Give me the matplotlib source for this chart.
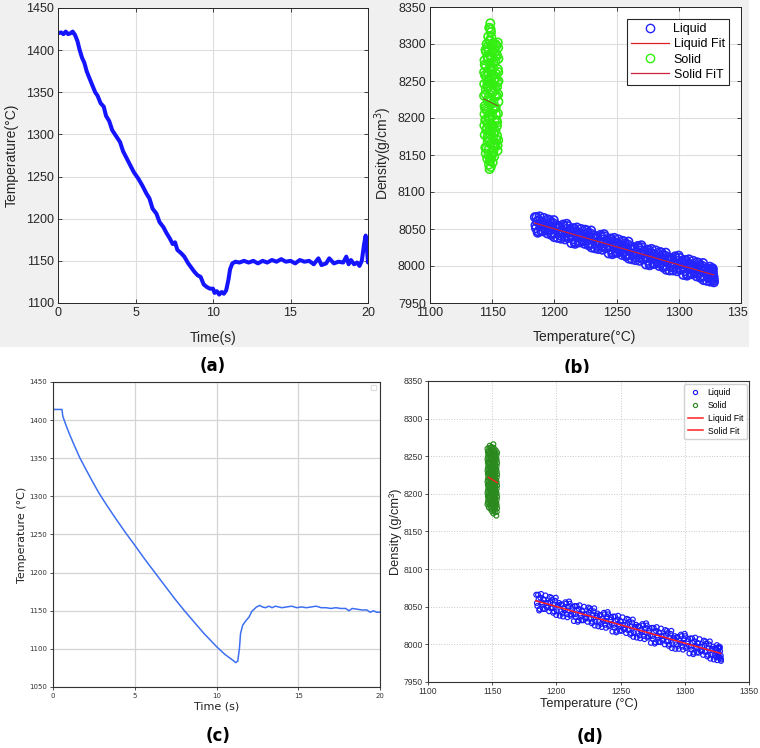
import matplotlib
matplotlib.use('Agg')
import matplotlib.pyplot as plt
from matplotlib.patches import Rectangle, FancyBboxPatch
from matplotlib.lines import Line2D
from matplotlib.transforms import Bbox, TransformedBbox

# ---------------- data ----------------
# (a) measured cooling curve
time_a = [0.0, 0.2, 0.35, 0.5, 0.65, 0.8, 0.95, 1.1, 1.25, 1.4, 1.55, 1.7, 1.85, 2.0, 2.2, 2.4,
          2.55, 2.75, 2.95, 3.1, 3.3, 3.5, 3.75, 4.0, 4.2, 4.45, 4.7, 4.9, 5.2, 5.45, 5.7, 5.9,
          6.1, 6.35, 6.55, 6.8, 7.0, 7.2, 7.4, 7.55, 7.7, 7.95, 8.15, 8.4, 8.6, 8.8, 9.0, 9.2,
          9.4, 9.6, 9.8, 10.0, 10.1, 10.25, 10.4, 10.55, 10.7, 10.85, 11.0, 11.1, 11.25, 11.45,
          11.7, 12.0, 12.3, 12.6, 12.9, 13.2, 13.5, 13.8, 14.1, 14.4, 14.7, 15.0, 15.3, 15.6,
          15.9, 16.2, 16.5, 16.8, 17.0, 17.3, 17.5, 17.8, 18.1, 18.4, 18.6, 18.75, 18.9, 19.1,
          19.3, 19.45, 19.6, 19.75, 19.85, 19.95, 20.0]
temp_a = [1420, 1421, 1419, 1422, 1419, 1420, 1422, 1418, 1411, 1400, 1391, 1385, 1375, 1368, 1359, 1350,
          1346, 1337, 1333, 1322, 1316, 1305, 1298, 1291, 1280, 1271, 1262, 1255, 1247, 1239, 1230, 1224,
          1212, 1206, 1196, 1190, 1183, 1177, 1170, 1172, 1163, 1159, 1155, 1147, 1142, 1137, 1133, 1131,
          1122, 1119, 1117, 1117, 1112, 1114, 1110, 1113, 1111, 1115, 1128, 1140, 1147, 1149,
          1148, 1150, 1148, 1150, 1147, 1150, 1148, 1151, 1149, 1152, 1149, 1150, 1147, 1151,
          1149, 1150, 1146, 1153, 1145, 1147, 1153, 1147, 1149, 1148, 1155, 1146, 1151, 1146,
          1148, 1144, 1150, 1170, 1180, 1160, 1148]

# (c) simulated cooling curve
time_c = [0.0, 0.3, 0.55, 0.6, 0.8, 1.0, 1.3, 1.63, 2.0, 2.4, 2.82, 3.3, 3.8, 4.45, 5.0, 5.6,
          6.2, 6.8, 7.4, 8.0, 8.6, 9.2, 9.6, 10.0, 10.5, 11.0, 11.18, 11.3, 11.4, 11.47, 11.6,
          11.8, 12.0, 12.15, 12.3, 12.45, 12.65, 12.8, 13.0, 13.2, 13.4, 13.6, 13.8, 14.0, 14.3,
          14.6, 14.9, 15.2, 15.5, 15.8, 16.1, 16.4, 16.7, 17.0, 17.3, 17.6, 17.9, 18.1, 18.3,
          18.6, 18.9, 19.2, 19.4, 19.6, 19.8, 20.0]
temp_c = [1414, 1414, 1414, 1405, 1393, 1382, 1367, 1351, 1336, 1320, 1304, 1288, 1272, 1252, 1236, 1218,
          1201, 1184, 1167, 1151, 1136, 1121, 1112, 1103, 1093, 1085, 1082, 1084, 1100, 1120, 1131,
          1137, 1142, 1149, 1152, 1155, 1157, 1155, 1154, 1156, 1154, 1156, 1155, 1154, 1155,
          1156, 1154, 1155, 1154, 1155, 1156, 1154, 1154, 1153, 1154, 1153, 1153, 1150, 1153,
          1152, 1151, 1151, 1148, 1150, 1148, 1148]

# (b)/(d) liquid density vs temperature (two read-off sets)
liquid_T = [1184.3, 1185.2, 1186.1, 1187.0, 1188.1, 1189.0, 1189.9, 1191.0, 1192.1, 1193.2,
            1194.3, 1195.2, 1196.1, 1197.0, 1198.1, 1199.0, 1199.9, 1201.0, 1202.1, 1203.2,
            1204.3, 1205.2, 1206.1, 1207.0, 1208.1, 1209.0, 1209.9, 1211.0, 1212.1, 1213.2,
            1214.3, 1215.2, 1216.1, 1217.0, 1218.1, 1219.0, 1219.9, 1221.0, 1222.1, 1223.2,
            1224.3, 1225.2, 1226.1, 1227.0, 1228.1, 1229.0, 1229.9, 1231.0, 1232.1, 1233.2,
            1234.3, 1235.2, 1236.1, 1237.0, 1238.1, 1239.0, 1239.9, 1241.0, 1242.1, 1243.2,
            1244.3, 1245.2, 1246.1, 1247.0, 1248.1, 1249.0, 1249.9, 1251.0, 1252.1, 1253.2,
            1254.3, 1255.2, 1256.1, 1257.0, 1258.1, 1259.0, 1259.9, 1261.0, 1262.1, 1263.2,
            1264.3, 1265.2, 1266.1, 1267.0, 1268.1, 1269.0, 1269.9, 1271.0, 1272.1, 1273.2,
            1274.3, 1275.2, 1276.1, 1277.0, 1278.1, 1279.0, 1279.9, 1281.0, 1282.1, 1283.2,
            1284.3, 1285.2, 1286.1, 1287.0, 1288.1, 1289.0, 1289.9, 1291.0, 1292.1, 1293.2,
            1294.3, 1295.2, 1296.1, 1297.0, 1298.1, 1299.0, 1299.9, 1301.0, 1302.1, 1303.2,
            1304.3, 1305.2, 1306.1, 1307.0, 1308.1, 1309.0, 1309.9, 1311.0, 1312.1, 1313.2,
            1314.3, 1315.2, 1316.1, 1317.0, 1318.1, 1319.0, 1319.9, 1321.0, 1322.1, 1323.2,
            1324.3, 1325.2, 1326.1, 1327.0, 1327.8, 1324.8, 1325.9, 1326.8, 1327.5, 1328.0]
liquid_D = [8066, 8051, 8060, 8047, 8067, 8054, 8060, 8047, 8055, 8050,
            8044, 8056, 8062, 8049, 8044, 8058, 8039, 8052, 8055, 8044,
            8053, 8037, 8048, 8056, 8040, 8045, 8057, 8038, 8047, 8041,
            8051, 8036, 8045, 8032, 8052, 8039, 8045, 8032, 8040, 8035,
            8030, 8042, 8048, 8035, 8030, 8044, 8025, 8038, 8041, 8030,
            8039, 8023, 8034, 8042, 8026, 8031, 8043, 8024, 8033, 8027,
            8037, 8022, 8031, 8018, 8038, 8025, 8031, 8018, 8026, 8021,
            8015, 8027, 8033, 8020, 8015, 8029, 8010, 8023, 8026, 8015,
            8024, 8008, 8019, 8027, 8011, 8016, 8028, 8009, 8018, 8012,
            8022, 8007, 8016, 8003, 8023, 8010, 8016, 8003, 8011, 8006,
            8000, 8012, 8018, 8005, 8000, 8014, 7995, 8008, 8011, 8000,
            8010, 7994, 8005, 8013, 7997, 8002, 8014, 7995, 8004, 7998,
            8008, 7993, 8002, 7989, 8009, 7996, 8002, 7989, 7997, 7992,
            7986, 7998, 8004, 7991, 7986, 8000, 7981, 7994, 7997, 7986,
            7995, 7979, 7990, 7997, 7982, 7989, 7996, 7982, 7991, 7985]
liquid2_T = [1184.8, 1185.7, 1186.6, 1187.5, 1188.6, 1189.5, 1190.4, 1191.5, 1192.6, 1193.6,
             1194.8, 1195.7, 1196.6, 1197.5, 1198.6, 1199.5, 1200.4, 1201.5, 1202.6, 1203.6,
             1204.8, 1205.7, 1206.6, 1207.5, 1208.6, 1209.5, 1210.4, 1211.5, 1212.6, 1213.6,
             1214.8, 1215.7, 1216.6, 1217.5, 1218.6, 1219.5, 1220.4, 1221.5, 1222.6, 1223.6,
             1224.8, 1225.7, 1226.6, 1227.5, 1228.6, 1229.5, 1230.4, 1231.5, 1232.6, 1233.6,
             1234.8, 1235.7, 1236.6, 1237.5, 1238.6, 1239.5, 1240.4, 1241.5, 1242.6, 1243.6,
             1244.8, 1245.7, 1246.6, 1247.5, 1248.6, 1249.5, 1250.4, 1251.5, 1252.6, 1253.6,
             1254.8, 1255.7, 1256.6, 1257.5, 1258.6, 1259.5, 1260.4, 1261.5, 1262.6, 1263.6,
             1264.8, 1265.7, 1266.6, 1267.5, 1268.6, 1269.5, 1270.4, 1271.5, 1272.6, 1273.6,
             1274.8, 1275.7, 1276.6, 1277.5, 1278.6, 1279.5, 1280.4, 1281.5, 1282.6, 1283.6,
             1284.8, 1285.7, 1286.6, 1287.5, 1288.6, 1289.5, 1290.4, 1291.5, 1292.6, 1293.6,
             1294.8, 1295.7, 1296.6, 1297.5, 1298.6, 1299.5, 1300.4, 1301.5, 1302.6, 1303.6,
             1304.8, 1305.7, 1306.6, 1307.5, 1308.6, 1309.5, 1310.4, 1311.5, 1312.6, 1313.6,
             1314.8, 1315.7, 1316.6, 1317.5, 1318.6, 1319.5, 1320.4, 1321.5, 1322.6, 1323.6,
             1324.6, 1325.5, 1326.4, 1327.3, 1328.2, 1324.0, 1325.0, 1326.0, 1327.0, 1328.2]
liquid2_D = [8055, 8066, 8045, 8062, 8056, 8047, 8059, 8065, 8049, 8055,
             8063, 8048, 8059, 8042, 8053, 8062, 8044, 8052, 8038, 8053,
             8041, 8048, 8045, 8054, 8036, 8050, 8054, 8040, 8050, 8031,
             8040, 8051, 8030, 8047, 8041, 8032, 8044, 8050, 8034, 8040,
             8049, 8034, 8045, 8028, 8039, 8048, 8030, 8038, 8024, 8039,
             8027, 8034, 8031, 8040, 8022, 8036, 8040, 8026, 8036, 8017,
             8026, 8037, 8016, 8033, 8027, 8018, 8030, 8036, 8020, 8026,
             8034, 8019, 8030, 8013, 8024, 8033, 8015, 8023, 8009, 8024,
             8012, 8019, 8016, 8025, 8007, 8021, 8025, 8011, 8021, 8002,
             8011, 8022, 8001, 8018, 8012, 8003, 8015, 8021, 8005, 8011,
             8019, 8004, 8015, 7998, 8009, 8018, 8000, 8008, 7994, 8009,
             7998, 8005, 8002, 8011, 7993, 8007, 8011, 7997, 8007, 7988,
             7997, 8008, 7987, 8004, 7998, 7989, 8001, 8007, 7991, 7997,
             8005, 7990, 8001, 7984, 7995, 8004, 7986, 7994, 7980, 7995,
             7983, 7990, 7987, 7996, 7978, 7995, 7999, 7985, 7995, 7980]

# (b) solid points
solid_b_T = [1148.5, 1147.6, 1149.0, 1146.8, 1148.2, 1145.5, 1150.5, 1153.5, 1154.8, 1144.6,
             1147.0, 1151.8, 1154.0, 1146.0, 1149.5, 1143.8, 1152.6, 1148.0, 1145.0, 1150.8,
             1154.5, 1146.5, 1153.0, 1144.2, 1149.2, 1151.5, 1147.5, 1154.2, 1143.6, 1145.8,
             1152.2, 1148.8, 1150.2, 1144.8, 1153.6, 1147.2, 1146.2, 1151.0, 1149.6, 1143.9,
             1152.9, 1145.3, 1148.4, 1154.6, 1150.0, 1146.9, 1144.4, 1152.0, 1149.0, 1153.8,
             1145.6, 1147.8, 1151.2, 1144.0, 1150.6, 1153.2, 1146.4, 1148.6, 1152.5, 1145.2,
             1154.3, 1149.8, 1147.1, 1151.6, 1146.0, 1148.3, 1150.4, 1147.4, 1148.9, 1147.9,
             1145.0, 1150.0, 1152.5, 1143.5, 1149.0, 1155.0, 1146.0, 1150.8, 1154.8, 1143.5,
             1148.0, 1153.0, 1145.0, 1150.5, 1144.5, 1151.0, 1154.8, 1143.8, 1155.0, 1147.0,
             1144.8, 1147.3, 1149.7, 1152.1, 1154.3, 1146.1, 1145.2, 1147.9, 1150.1, 1152.6,
             1154.0, 1146.6, 1144.3, 1148.1, 1150.9, 1153.4, 1146.2, 1149.1, 1144.9, 1147.1,
             1151.3, 1153.9, 1149.4, 1152.4, 1145.4, 1147.6, 1150.6, 1152.8, 1154.9, 1148.9,
             1144.0, 1146.8, 1151.0, 1153.3, 1145.9, 1149.9, 1147.7, 1152.0, 1149.3, 1148.7,
             1154.5, 1145.5, 1153.9, 1151.8, 1143.7, 1155.0, 1148.2, 1150.9]
solid_b_D = [8328, 8322, 8316, 8310, 8305, 8300, 8301, 8298, 8295, 8292,
             8290, 8288, 8284, 8283, 8281, 8278, 8276, 8274, 8270, 8268,
             8266, 8262, 8260, 8258, 8256, 8252, 8250, 8248, 8246, 8243,
             8240, 8238, 8235, 8232, 8230, 8228, 8224, 8222, 8219, 8216,
             8214, 8211, 8208, 8206, 8203, 8200, 8197, 8195, 8192, 8189,
             8186, 8183, 8180, 8177, 8174, 8171, 8168, 8165, 8162, 8159,
             8156, 8153, 8150, 8148, 8145, 8142, 8140, 8137, 8134, 8131,
             8290, 8290, 8300, 8262, 8268, 8280, 8250, 8245, 8232, 8230,
             8222, 8205, 8198, 8190, 8160, 8160, 8170, 8205, 8222, 8172,
             8152, 8158, 8149, 8166, 8163, 8174, 8184, 8179, 8186, 8182,
             8194, 8192, 8213, 8199, 8211, 8197, 8209, 8226, 8238, 8244,
             8236, 8242, 8247, 8229, 8256, 8266, 8259, 8254, 8262, 8283,
             8272, 8279, 8275, 8286, 8296, 8298, 8304, 8293, 8309, 8320,
             8302, 8160, 8176, 8215, 8190, 8250, 8145, 8155]

# (d) solid points
solid_d_T = [1146.3, 1146.9, 1146.3, 1146.9, 1146.3, 1146.9, 1146.3, 1146.9, 1146.3, 1146.9, 1146.3,
             1147.4, 1148.0, 1147.4, 1148.0, 1147.4, 1148.0, 1147.4, 1148.0, 1147.4, 1148.0, 1147.4, 1148.0,
             1148.6, 1149.2, 1148.6, 1149.2, 1148.6, 1149.2, 1148.6, 1149.2, 1148.6, 1149.2, 1148.6, 1149.2,
             1149.8, 1150.4, 1149.8, 1150.4, 1149.8, 1150.4, 1149.8, 1150.4, 1149.8, 1150.4, 1149.8, 1150.4, 1150.9,
             1150.9, 1151.5, 1150.9, 1151.5, 1150.9, 1151.5, 1150.9, 1151.5, 1150.9, 1151.5, 1150.9, 1151.5,
             1152.1, 1152.7, 1152.1, 1152.7, 1152.1, 1152.7, 1152.1, 1152.7, 1152.1, 1152.7, 1152.1, 1152.7,
             1153.2, 1153.8, 1153.2, 1153.8, 1153.2, 1153.8, 1153.2, 1153.8, 1153.2, 1153.8, 1153.2, 1153.8]
solid_d_D = [8186, 8193, 8201, 8208, 8216, 8223, 8231, 8238, 8246, 8253, 8260,
             8182, 8190, 8197, 8205, 8212, 8220, 8227, 8235, 8242, 8250, 8257, 8264,
             8180, 8187, 8195, 8203, 8210, 8218, 8225, 8233, 8240, 8248, 8255, 8262,
             8177, 8185, 8192, 8200, 8207, 8215, 8222, 8230, 8237, 8245, 8252, 8259, 8266,
             8174, 8183, 8190, 8198, 8205, 8213, 8220, 8228, 8235, 8243, 8250, 8257,
             8176, 8184, 8191, 8199, 8206, 8214, 8221, 8229, 8236, 8244, 8251, 8258,
             8171, 8181, 8188, 8196, 8203, 8211, 8218, 8226, 8233, 8241, 8248, 8255]
solid_d2_T = [1146.6, 1146.6, 1146.6, 1146.6, 1146.6, 1146.6, 1146.6, 1146.6, 1146.6, 1146.6,
              1147.7, 1147.7, 1147.7, 1147.7, 1147.7, 1147.7, 1147.7, 1147.7, 1147.7, 1147.7, 1147.7,
              1148.9, 1148.9, 1148.9, 1148.9, 1148.9, 1148.9, 1148.9, 1148.9, 1148.9, 1148.9, 1148.9,
              1150.1, 1150.1, 1150.1, 1150.1, 1150.1, 1150.1, 1150.1, 1150.1, 1150.1, 1150.1, 1150.1, 1150.1,
              1151.2, 1151.2, 1151.2, 1151.2, 1151.2, 1151.2, 1151.2, 1151.2, 1151.2, 1151.2, 1151.2, 1151.2,
              1152.4, 1152.4, 1152.4, 1152.4, 1152.4, 1152.4, 1152.4, 1152.4, 1152.4, 1152.4, 1152.4,
              1153.5, 1153.5, 1153.5, 1153.5, 1153.5, 1153.5, 1153.5, 1153.5, 1153.5, 1153.5, 1153.5]
solid_d2_D = [8189, 8197, 8204, 8212, 8219, 8227, 8234, 8242, 8249, 8256,
              8186, 8194, 8201, 8209, 8216, 8224, 8231, 8239, 8246, 8253, 8261,
              8183, 8191, 8199, 8206, 8214, 8221, 8229, 8236, 8244, 8251, 8258,
              8181, 8188, 8196, 8203, 8211, 8218, 8226, 8233, 8241, 8248, 8255, 8262,
              8179, 8186, 8194, 8201, 8209, 8216, 8224, 8231, 8239, 8246, 8253, 8261,
              8180, 8188, 8195, 8202, 8210, 8217, 8225, 8232, 8240, 8247, 8254,
              8176, 8185, 8192, 8200, 8207, 8215, 8222, 8230, 8237, 8245, 8252]

# linear fits (end points)
liq_fit_T = [1184, 1328]
liq_fit_D = [8058, 7988]
sol_fit_b_T = [1143, 1155]
sol_fit_b_D = [8226, 8216]
sol_fit_d_T = [1147, 1154]
sol_fit_d_D = [8222, 8215]

temp_ticks = [1100, 1150, 1200, 1250, 1300, 1350]
dens_ticks = [7950, 8000, 8050, 8100, 8150, 8200, 8250, 8300, 8350]
time_ticks = [0, 5, 10, 15, 20]

# ---------------- layout ----------------
W, H = 760, 748
fig = plt.figure(figsize=(7.6, 7.48), dpi=100)


def rect(l, t, r, b):
    return [l / W, 1 - b / H, (r - l) / W, (b - t) / H]


def figbox(l, t, r, b):
    return TransformedBbox(Bbox([[l / W, 1 - b / H], [r / W, 1 - t / H]]), fig.transFigure)


fig.patches.append(Rectangle((0, 1 - 347 / H), 749 / W, 347 / H, transform=fig.transFigure,
                             facecolor='#f0f0f0', edgecolor='none', zorder=-10))

MAT = ['Liberation Sans', 'DejaVu Sans']
NARROW = ['Liberation Sans Narrow', 'Liberation Sans', 'DejaVu Sans']
DARK = '#262626'


def matlab_style(ax):
    ax.grid(True, color='#dedede', lw=0.8)
    ax.set_axisbelow(True)
    ax.tick_params(direction='in', length=3, width=0.6, labelsize=9, colors=DARK,
                   top=True, right=True, labelfontfamily=MAT, pad=3)
    for s in ax.spines.values():
        s.set_color(DARK)
        s.set_linewidth(0.7)


# ---- (a) ----
axA = fig.add_axes(rect(58, 8, 368, 303))
axA.plot(time_a, temp_a, color='#1414ff', lw=2.9, solid_joinstyle='round', solid_capstyle='round')
axA.set_xlim(0, 20)
axA.set_ylim(1100, 1450)
axA.set_xticks(time_ticks)
axA.set_yticks([1100, 1150, 1200, 1250, 1300, 1350, 1400, 1450])
matlab_style(axA)
axA.set_xlabel('Time(s)', fontsize=10, family=MAT, color=DARK)
axA.set_ylabel('Temperature(°C)', fontsize=10, family=MAT, color=DARK)
axA.xaxis.set_label_coords(0.5, -0.095)
axA.yaxis.set_label_coords(-0.126, 0.5)

# ---- (b) ----
axB = fig.add_axes(rect(430, 7, 741, 303))
axB.scatter(solid_b_T, solid_b_D, s=36, facecolors='none', edgecolors='#33ee11', linewidths=1.2, zorder=2)
axB.scatter(liquid_T, liquid_D, s=36, facecolors='none', edgecolors='#2424ff', linewidths=1.2, zorder=2)
axB.scatter(liquid2_T, liquid2_D, s=36, facecolors='none', edgecolors='#2424ff', linewidths=1.2, zorder=2)
axB.plot(liq_fit_T, liq_fit_D, color='#e02020', lw=0.8, zorder=3)
axB.plot(sol_fit_b_T, sol_fit_b_D, color='#8a3a30', lw=0.6, zorder=3)
axB.set_xlim(1100, 1350)
axB.set_ylim(7950, 8350)
axB.set_xticks(temp_ticks)
axB.set_yticks(dens_ticks)
matlab_style(axB)
axB.set_xlabel('Temperature(°C)', fontsize=10, family=MAT, color=DARK)
axB.set_ylabel('Density(g/cm$^3$)', fontsize=10, family=MAT, color=DARK)
axB.xaxis.set_label_coords(0.498, -0.091)
axB.yaxis.set_label_coords(-0.116, 0.507)
hB = [Line2D([], [], ls='none', marker='o', mfc='none', mec='#2424ff', ms=6, mew=1.0),
      Line2D([], [], color='#e02020', lw=0.9),
      Line2D([], [], ls='none', marker='o', mfc='none', mec='#33ee11', ms=6, mew=1.0),
      Line2D([], [], color='#d02040', lw=0.9)]
legB = axB.legend(hB, ['Liquid', 'Liquid Fit', 'Solid', 'Solid FiT'], loc='upper right',
                  bbox_to_anchor=((729 - 430) / 311, (303 - 19) / 296), borderaxespad=0,
                  frameon=True, fancybox=False, edgecolor=DARK, framealpha=1,
                  prop={'family': MAT, 'size': 9}, handlelength=3.0, labelspacing=0.25,
                  borderpad=0.35, handletextpad=0.4)
legB.get_frame().set_linewidth(0.8)
for lab in axB.get_xticklabels():
    lab.set_clip_box(figbox(0, 0, 748, H))
    lab.set_clip_on(True)

# ---- (c) ----
axC = fig.add_axes(rect(53, 382, 380, 687))
axC.plot(time_c, temp_c, color='#3d6ff2', lw=1.1)
axC.set_xlim(0, 20)
axC.set_ylim(1050, 1450)
axC.set_xticks(time_ticks)
axC.set_yticks([1050, 1100, 1150, 1200, 1250, 1300, 1350, 1400, 1450])
axC.grid(True, color='#d4d4d4', lw=0.9)
axC.set_axisbelow(True)
axC.tick_params(length=2.5, width=0.6, labelsize=5, colors='#333333', pad=2)
for s in axC.spines.values():
    s.set_color('#333333')
    s.set_linewidth(0.8)
axC.set_xlabel('Time (s)', fontsize=8, color='#222222')
axC.set_ylabel('Temperature (°C)', fontsize=8, color='#222222')
axC.xaxis.set_label_coords(0.5, -0.049)
axC.yaxis.set_label_coords(-0.081, 0.5)
axC.add_patch(FancyBboxPatch((0.973, 0.972), 0.017, 0.017, boxstyle='round,pad=0,rounding_size=0.004',
                             transform=axC.transAxes, facecolor='white', edgecolor='#d8d8d8', lw=0.7))

# ---- (d) ----
axD = fig.add_axes(rect(428, 381, 749, 682))
for xs, ys in ((liquid_T, liquid_D), (liquid2_T, liquid2_D)):
    axD.scatter(xs, ys, s=12, facecolors='none', edgecolors='#1a1aff', linewidths=0.85, zorder=2)
for xs, ys in ((solid_d_T, solid_d_D), (solid_d2_T, solid_d2_D)):
    axD.scatter(xs, ys, s=12, facecolors='none', edgecolors='#2a8a1e', linewidths=0.85, zorder=2)
axD.plot(liq_fit_T, liq_fit_D, color='#ff2020', lw=1.1, zorder=3)
axD.plot(sol_fit_d_T, sol_fit_d_D, color='#ff2020', lw=1.0, zorder=3)
axD.set_xlim(1100, 1350)
axD.set_ylim(7950, 8350)
axD.set_xticks(temp_ticks)
axD.set_yticks(dens_ticks)
axD.grid(True, color='#c8c8c8', lw=0.7, ls=':')
axD.set_axisbelow(True)
axD.tick_params(length=2, width=0.6, labelsize=6.2, colors='#333333', pad=1.5, labelfontfamily=NARROW)
for s in axD.spines.values():
    s.set_color('#333333')
    s.set_linewidth(0.8)
axD.set_xlabel('Temperature (°C)', fontsize=9.2, family=NARROW, color='#222222')
axD.set_ylabel('Density (g/cm³)', fontsize=9.2, family=NARROW, color='#222222')
axD.xaxis.set_label_coords(0.5, -0.053)
axD.yaxis.set_label_coords(-0.08, 0.498)
hD = [Line2D([], [], ls='none', marker='o', mfc='none', mec='#1a1aff', ms=3, mew=0.8),
      Line2D([], [], ls='none', marker='o', mfc='none', mec='#2a8a1e', ms=3, mew=0.8),
      Line2D([], [], color='#ff2020', lw=1.1),
      Line2D([], [], color='#ff2020', lw=1.1)]
legD = axD.legend(hD, ['Liquid', 'Solid', 'Liquid Fit', 'Solid Fit'], loc='upper right',
                  bbox_to_anchor=((747 - 428) / 321, (682 - 384) / 301), borderaxespad=0,
                  frameon=True, fancybox=True, edgecolor='#d0d0d0', framealpha=1,
                  prop={'family': NARROW, 'size': 6.2}, handlelength=1.7, labelspacing=0.45,
                  borderpad=0.45, handletextpad=0.6)

# ---- panel labels ----
fig.text(213 / W, 1 - 366 / H, '(a)', ha='center', va='center', fontsize=12, fontweight='bold')
tb = fig.text(577 / W, 1 - 368 / H, '(b)', ha='center', va='center', fontsize=12, fontweight='bold')
tb.set_clip_box(figbox(0, 0, W, 373))
tb.set_clip_on(True)
fig.text(218 / W, 1 - 736 / H, '(c)', ha='center', va='center', fontsize=12, fontweight='bold')
fig.text(590 / W, 1 - 737 / H, '(d)', ha='center', va='center', fontsize=12, fontweight='bold')

fig.savefig('out.png', dpi=100, facecolor='white')
